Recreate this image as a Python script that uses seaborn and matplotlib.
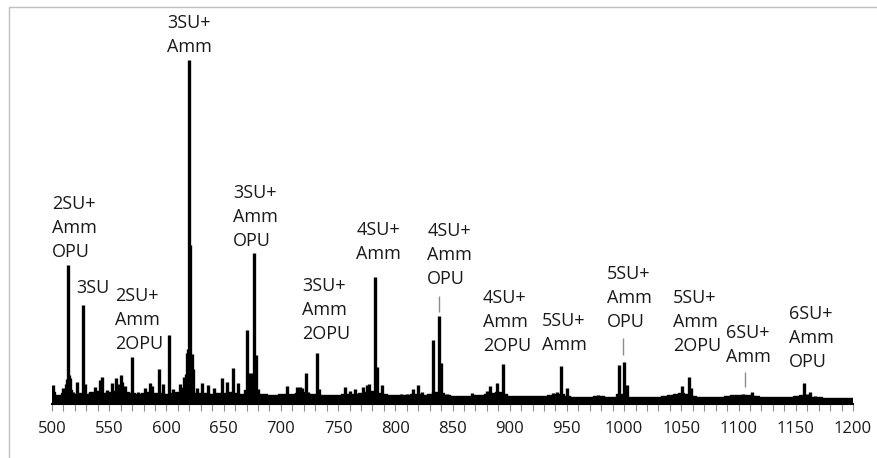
import matplotlib
matplotlib.use("Agg")
import matplotlib.pyplot as plt
from matplotlib.patches import Rectangle
import numpy as np
import pandas as pd
import seaborn as sns

# Noise floor of the spectrum, sampled every 5 m/z (a.u.)
floor_mz = list(range(500, 1201, 5))
floor_int = [12, 9, 11, 14, 10, 11, 10, 12, 13, 11, 12, 13, 14, 12, 11, 10, 11, 12, 11, 11,
             10, 11, 12, 16, 14, 11, 11, 11, 10, 11, 11, 12, 11, 10, 14, 12, 10, 10, 9, 9,
             10, 10, 10, 11, 12, 10, 10, 9, 9, 9, 9, 10, 10, 10, 11, 12, 13, 11, 10, 9,
             9, 9, 9, 10, 10, 9, 10, 12, 11, 9, 8, 8, 8, 8, 9, 9, 10, 11, 12, 10,
             8, 8, 8, 8, 8, 8, 8, 9, 10, 10, 8, 7, 7, 7, 7, 8, 8, 7, 7, 10,
             10, 7, 7, 7, 7, 7, 7, 8, 9, 10, 11, 10, 8, 7, 7, 7, 7, 7, 8, 9,
             9, 9, 9, 8, 7, 7, 7, 7, 7, 7, 8, 9, 8, 7, 7, 6, 6, 6, 6, 6, 6]

# Individual peaks (m/z, intensity a.u.)
peak_mz = [501, 509.5, 512, 513, 514, 515, 516, 518, 522, 527, 529, 533, 537.5,
           542, 543.5, 548, 552, 556, 558, 560, 561, 564, 570, 575, 581, 586,
           587, 593.5, 597, 602, 606, 612, 615, 617, 618, 619, 620, 621, 622,
           623, 627, 631, 636, 642, 648.5, 653, 658, 662.5, 670, 671, 672, 674,
           676.5, 678, 680, 705, 714, 717, 718.5, 722, 724, 731.6, 733, 756,
           760, 765, 772, 775, 777, 782, 784, 788, 805, 810, 815.5, 820, 823,
           833, 838, 840, 845, 867, 878, 880, 883, 889, 894, 935, 938, 941,
           945, 950, 977, 981.5, 995.5, 1000, 1002.5, 1038, 1044, 1050.5,
           1056.5, 1058.5, 1096, 1101, 1104, 1107, 1112, 1157, 1160, 1162,
           1166.5]
peak_int = [19, 16, 20, 25, 139, 29, 26, 12, 22, 99, 20, 12, 17,
            24, 27, 14, 21, 26, 20, 29, 22, 18, 47, 12, 16, 21,
            18, 35, 20, 69, 15, 20, 27, 30, 51, 55, 344, 159, 50,
            35, 16, 21, 19, 16, 26, 22, 36, 21, 74, 31, 30, 31,
            151, 49, 15, 18, 17, 17, 16, 31, 12, 51, 15, 17,
            13, 15, 17, 19, 20, 127, 37, 19, 10, 10, 15, 19, 12,
            64, 88, 41, 10, 11, 10, 13, 18, 21, 40, 9, 11, 12,
            38, 16, 9, 8, 39, 42, 19, 8, 9, 18,
            27, 16, 9, 9, 10, 9, 12, 21, 10, 12,
            8]

# Peak assignments: text, left m/z, vertical centre (a.u.)
label_text = ["2SU+\nAmm\nOPU", "3SU", "2SU+\nAmm\n2OPU", "3SU+\nAmm",
              "3SU+\nAmm\nOPU", "3SU+\nAmm\n2OPU", "4SU+\nAmm",
              "4SU+\nAmm\nOPU", "4SU+\nAmm\n2OPU", "5SU+\nAmm",
              "5SU+\nAmm\nOPU", "5SU+\nAmm\n2OPU", "6SU+\nAmm",
              "6SU+\nAmm\nOPU"]
label_x = [500, 521, 555, 600.5, 658, 718.5, 766, 828, 876.6, 928.2,
           985, 1042.7, 1089, 1144]
label_y = [176, 116, 84, 369, 187, 94, 162, 149, 82, 71, 106, 82, 59, 66]

# Leader lines (m/z, lower end, upper end)
leader_mz = [838.5, 999, 1105.5]
leader_lo = [92, 49, 17]
leader_hi = [108, 66, 32]

tick_vals = list(range(500, 1201, 50))

sns.set_theme(style="white")
plt.rcParams["font.family"] = ["Open Sans", "DejaVu Sans"]

W, H = 878, 458
fig = plt.figure(figsize=(W / 100, H / 100), dpi=100)
ax = fig.add_axes([52 / W, 1 - 404 / H, (853 - 52) / W, (404 - 15) / H])

floor_df = pd.DataFrame({"mz": floor_mz, "intensity": floor_int})
sns.lineplot(data=floor_df, x="mz", y="intensity", ax=ax, color="black",
             linewidth=1.0, drawstyle="steps-mid")
ax.fill_between(floor_df["mz"], 0, floor_df["intensity"], step="mid",
                color="black", linewidth=0)
ax.vlines(peak_mz, 0, peak_int, color="black", linewidth=2.4)

for t, x, y in zip(label_text, label_x, label_y):
    ax.text(x, y, t, ha="left", va="center", fontsize=13, color="#1a1a1a",
            linespacing=1.45)
ax.vlines(leader_mz, leader_lo, leader_hi, color="#8c8c8c", linewidth=1.0)

ax.set_xlim(500, 1200)
ax.set_ylim(0, 389)
ax.set_xticks(tick_vals)
ax.set_xticks(list(range(500, 1201, 10)), minor=True)
ax.set_yticks([])
ax.set_xlabel("")
ax.set_ylabel("")
for s in ["top", "right", "left"]:
    ax.spines[s].set_visible(False)
ax.spines["bottom"].set_color("black")
ax.spines["bottom"].set_linewidth(1.5)
ax.tick_params(axis="x", which="both", direction="out", length=5, width=0.8,
               color="#8c8c8c", bottom=True)
ax.tick_params(axis="x", which="major", labelsize=12, pad=7,
               labelcolor="#1a1a1a")
ax.patch.set_alpha(0)

# Chart area frame
fig.patches.append(Rectangle((9 / W, -0.2), 1.5, 1 - 7 / H + 0.2,
                             transform=fig.transFigure, fill=False,
                             edgecolor="#bfbfbf", linewidth=1.0, zorder=-1))

fig.savefig("out.png", dpi=100)
